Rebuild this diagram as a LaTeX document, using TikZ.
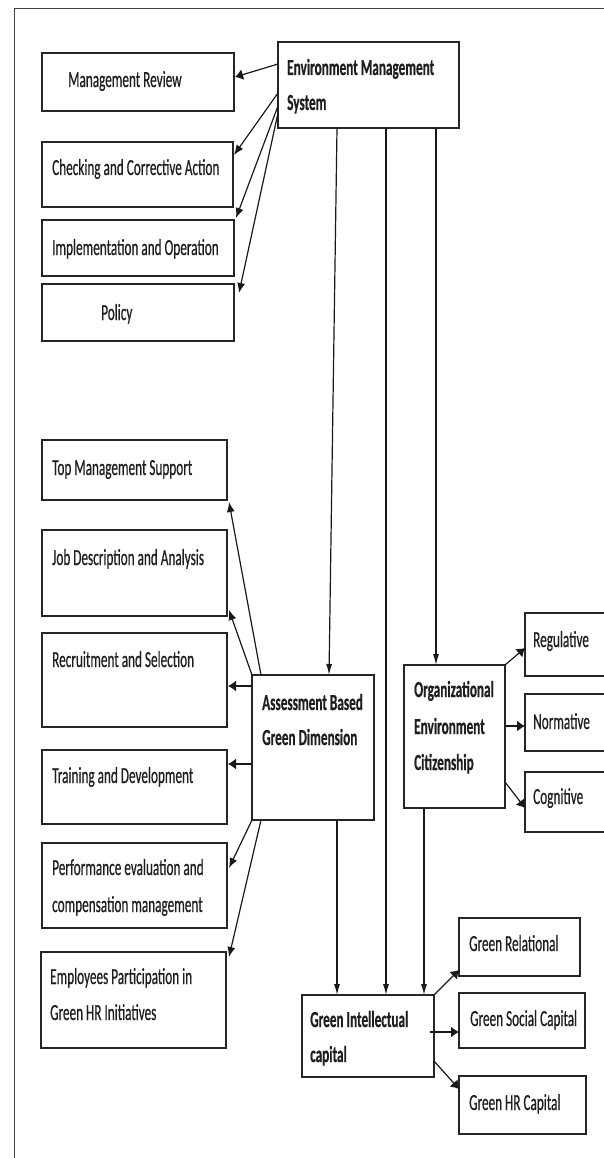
\documentclass[tikz,border=0pt]{standalone}
\usepackage{fontspec}
\newfontfamily\cf[FakeStretch=0.575,FakeBold=0.5]{Carlito}
\usetikzlibrary{calc,arrows.meta}
\tikzset{
  box/.style={draw=black!85, line width=1.5pt, inner sep=0pt, outer sep=0pt, anchor=north west, fill=white},
  txt/.style={anchor=base west, inner sep=0pt, font={\cf\fontsize{23}{25}\selectfont}, text=black!88},
  btxt/.style={txt, font={\cf\bfseries\fontsize{23}{25}\selectfont}},
  ln/.style={draw=black!90, line width=1.2pt},
  varr/.style={ln, -{Latex[length=11pt,width=6pt]}},
  harr/.style={ln, -{Latex[length=8pt,width=11pt]}},
  sarr/.style={ln, -{Latex[length=10pt,width=8pt]}},
}
\newcommand{\bx}[5]{\node[box, minimum width=#4pt, minimum height=#5pt] (#1) at (#2,#3) {};}
\begin{document}
\begin{tikzpicture}[x=1pt,y=-1pt]
\useasboundingbox (0,0) rectangle (604,1158);
\clip (0,0) rectangle (604,1158);
\fill[white] (0,0) rectangle (604,1158);
% frame
\draw[line width=1.2pt, black!75] (14.6,1160) -- (14.6,8.3) -- (610,8.3);
% boxes
\bx{mr}{42}{53}{192}{58}
\bx{ems}{278}{42}{181}{86}
\bx{cca}{42}{142}{191}{65}
\bx{io}{42}{220}{192}{56}
\bx{pol}{42}{284}{192}{57}
\bx{tms}{42}{440}{185}{60}
\bx{jda}{42}{530}{185}{86}
\bx{rs}{42}{633}{185}{94}
\bx{td}{42}{750}{185}{74}
\bx{pe}{42}{843}{185}{85}
\bx{ep}{41}{952}{185}{96}
\bx{abgd}{252}{675}{122}{145}
\bx{oec}{404}{665}{101}{143}
\bx{reg}{525}{613}{95}{63}
\bx{norm}{525}{694}{95}{57}
\bx{cog}{525}{772}{95}{60}
\bx{gic}{302}{995}{132}{82}
\bx{gr}{459}{918}{121}{58}
\bx{gsc}{459}{993}{126}{55}
\bx{ghr}{459}{1076}{127}{58}
% texts
\node[txt] (tmr) at (68,87) {Management Review};
\node[btxt] (tems1) at (287,75) {Environment Management};
\node[btxt] (tems2) at (287,110) {System};
\node[txt] (tcca) at (52,175) {Checking and Corrective Action};
\node[txt] (tio) at (52,255) {Implementation and Operation};
\node[txt] (tpol) at (101,320) {Policy};
\node[txt] (ttms) at (52,475) {Top Management Support};
\node[txt] (tjda) at (52,565) {Job Description and Analysis};
\node[txt] (trs) at (52,667) {Recruitment and Selection};
\node[txt] (ttd) at (52,783) {Training and Development};
\node[btxt] (tab1) at (262,710) {Assessment Based};
\node[btxt] (tab2) at (262,745) {Green Dimension};
\node[btxt] (toec1) at (414,697) {Organizational};
\node[btxt] (toec2) at (414,734) {Environment};
\node[btxt] (toec3) at (414,770) {Citizenship};
\node[txt] (treg) at (533,647) {Regulative};
\node[txt] (tnorm) at (533,729) {Normative};
\node[txt] (tcog) at (533,804) {Cognitive};
\node[txt] (tpe1) at (52,875) {Performance evaluation and};
\node[txt] (tpe2) at (52,912) {compensation management};
\node[txt] (tep1) at (50,984) {Employees Participation in};
\node[txt] (tep2) at (50,1020) {Green HR Initiatives};
\node[btxt] (tgic1) at (310,1027) {Green Intellectual};
\node[btxt] (tgic2) at (310,1062) {capital};
\node[txt] (tgr) at (469,951) {Green Relational};
\node[txt] (tgsc) at (470,1026) {Green Social Capital};
\node[txt] (tghr) at (469,1110) {Green HR Capital};
% EMS arrows to left
\draw[harr] ($(ems.north west)+(0,22)$) -- ($(mr.north east)+(1,24)$);
\draw[sarr] ($(ems.north west)+(0,51)$) -- ($(cca.north east)+(1,13)$);
\draw[sarr] ($(ems.north west)+(0,64)$) -- ($(io.north east)+(2,-2)$);
\draw[sarr] ($(ems.north west)+(0,71)$) -- ($(pol.north east)+(5,9)$);
% vertical
\draw[varr] ($(ems.south west)+(59,0)$) -- ($(abgd.north west)+(77,0)$);
\draw[varr] ($(ems.south west)+(108,0)$) -- ($(gic.north west)+(84,0)$);
\draw[varr] ($(ems.south west)+(158,0)$) -- ($(oec.north west)+(32,0)$);
\draw[varr] ($(abgd.south west)+(85,0)$) -- ($(gic.north west)+(35,0)$);
\draw[varr] ($(oec.south west)+(20,0)$) -- ($(gic.north west)+(122,0)$);
% ABGD arrows to left
\draw[sarr] ($(abgd.north west)+(9,0)$) -- ($(tms.south east)+(2,2)$);
\draw[sarr] (abgd.north west) -- ($(jda.south east)+(2,-6)$);
\draw[harr] ($(abgd.north west)+(0,11)$) -- ($(rs.north east)+(1,53)$);
\draw[harr] ($(abgd.north west)+(0,89)$) -- ($(td.north east)+(1,14)$);
\draw[sarr] (abgd.south west) -- ($(pe.north east)+(2,25)$);
\draw[sarr] ($(abgd.south west)+(9,0)$) -- ($(ep.north east)+(3,5)$);
% OEC arrows
\draw[harr] (oec.north east) -- ($(reg.north west)+(0,35)$);
\draw[harr] ($(oec.north east)+(0,61)$) -- ($(norm.north west)+(0,32)$);
\draw[harr] ($(oec.north east)+(0,117)$) -- ($(cog.north west)+(0,36)$);
% GIC arrows
\draw[harr] (gic.north east) -- ($(gr.south west)+(0,-6)$);
\draw[harr] ($(gic.north west)+(128,37)$) -- ($(gsc.north west)+(0,39)$);
\draw[harr] ($(gic.north east)+(0,66)$) -- ($(ghr.north west)+(0,13)$);
\end{tikzpicture}
\end{document}
